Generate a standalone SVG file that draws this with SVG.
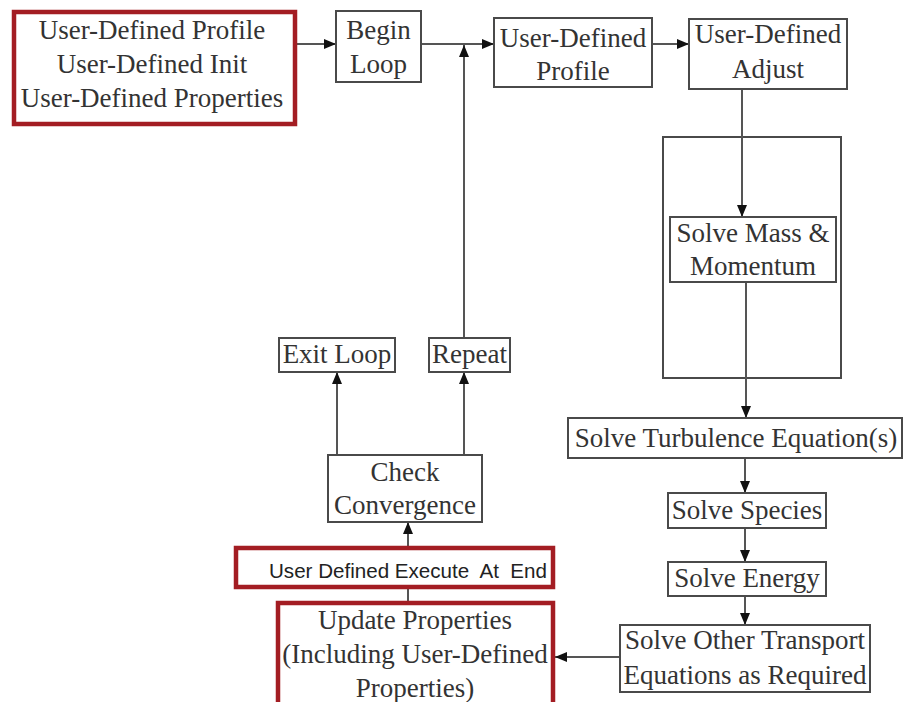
<svg xmlns="http://www.w3.org/2000/svg" width="903" height="702" viewBox="0 0 903 702">
<style>
.box{fill:#fff;stroke:#4a4a4a;stroke-width:2}
.red{fill:#fff;stroke:#a31d23;stroke-width:4.5}
.t{font-family:"Liberation Serif","Times New Roman",serif;font-size:27px;fill:#333;text-anchor:middle}
.s{font-family:"Liberation Sans",Arial,sans-serif;font-size:20px;fill:#222;text-anchor:middle;white-space:pre}
.c{fill:none;stroke:#555;stroke-width:2}
</style>
<defs>
<marker id="ah" markerUnits="userSpaceOnUse" markerWidth="14" markerHeight="12" refX="12" refY="5" orient="auto">
<path d="M0,0 L12,5 L0,10 Z" fill="#111"/>
</marker>
</defs>
<rect x="663" y="137" width="178" height="241" class="box"/>
<g id="connectors">
<path class="c" d="M295,44 H336" marker-end="url(#ah)"/>
<path class="c" d="M421,44 H494" marker-end="url(#ah)"/>
<path class="c" d="M652,44 H689" marker-end="url(#ah)"/>
<path class="c" d="M742,89 V217" marker-end="url(#ah)"/>
<path class="c" d="M746,282 V418" marker-end="url(#ah)"/>
<path class="c" d="M745,458 V493" marker-end="url(#ah)"/>
<path class="c" d="M745,528 V562" marker-end="url(#ah)"/>
<path class="c" d="M745,596 V625" marker-end="url(#ah)"/>
<path class="c" d="M620,657 H555" marker-end="url(#ah)"/>
<path class="c" d="M408,602 V587"/>
<path class="c" d="M408,547 V522" marker-end="url(#ah)"/>
<path class="c" d="M337,455 V372" marker-end="url(#ah)"/>
<path class="c" d="M464,455 V372" marker-end="url(#ah)"/>
<path class="c" d="M464,338 V45" marker-end="url(#ah)"/>
</g>
<g id="n-init">
<rect x="14" y="12" width="281" height="112" class="red"/>
<text class="t" x="152" y="39">User-Defined Profile</text>
<text class="t" x="152" y="73">User-Defined Init</text>
<text class="t" x="152" y="107">User-Defined Properties</text>
</g>
<g id="n-begin">
<rect x="336" y="11" width="85" height="71" class="box"/>
<text class="t" x="378.5" y="39">Begin</text>
<text class="t" x="378.5" y="73">Loop</text>
</g>
<g id="n-profile">
<rect x="494" y="18" width="158" height="69" class="box"/>
<text class="t" x="573" y="47">User-Defined</text>
<text class="t" x="573" y="80">Profile</text>
</g>
<g id="n-adjust">
<rect x="689" y="19" width="158" height="70" class="box"/>
<text class="t" x="768" y="43">User-Defined</text>
<text class="t" x="768" y="78">Adjust</text>
</g>
<g id="n-mass">
<rect x="670" y="217" width="166" height="65" class="box"/>
<text class="t" x="753" y="242">Solve Mass &amp;</text>
<text class="t" x="753" y="275">Momentum</text>
</g>
<g id="n-turb">
<rect x="568" y="418" width="334" height="40" class="box"/>
<text class="t" x="736" y="447">Solve Turbulence Equation(s)</text>
</g>
<g id="n-species">
<rect x="668" y="493" width="158" height="35" class="box"/>
<text class="t" x="747" y="519">Solve Species</text>
</g>
<g id="n-energy">
<rect x="668" y="562" width="158" height="34" class="box"/>
<text class="t" x="747" y="587">Solve Energy</text>
</g>
<g id="n-other">
<rect x="620" y="625" width="250" height="67" class="box"/>
<text class="t" x="745" y="649">Solve Other Transport</text>
<text class="t" x="745" y="684">Equations as Required</text>
</g>
<g id="n-update">
<rect x="278" y="603" width="275" height="104" class="red"/>
<text class="t" x="415" y="629">Update Properties</text>
<text class="t" x="415" y="663">(Including User-Defined</text>
<text class="t" x="415" y="697">Properties)</text>
</g>
<g id="n-execute">
<rect x="236" y="548" width="317" height="39" class="red"/>
<text class="s" x="408" y="578" textLength="278" lengthAdjust="spacingAndGlyphs">User Defined Execute  At  End</text>
</g>
<g id="n-check">
<rect x="328" y="455" width="154" height="67" class="box"/>
<text class="t" x="405" y="481">Check</text>
<text class="t" x="405" y="514">Convergence</text>
</g>
<g id="n-exit">
<rect x="279" y="338" width="116" height="34" class="box"/>
<text class="t" x="337" y="363">Exit Loop</text>
</g>
<g id="n-repeat">
<rect x="429" y="338" width="81" height="34" class="box"/>
<text class="t" x="469.5" y="363">Repeat</text>
</g>
</svg>
